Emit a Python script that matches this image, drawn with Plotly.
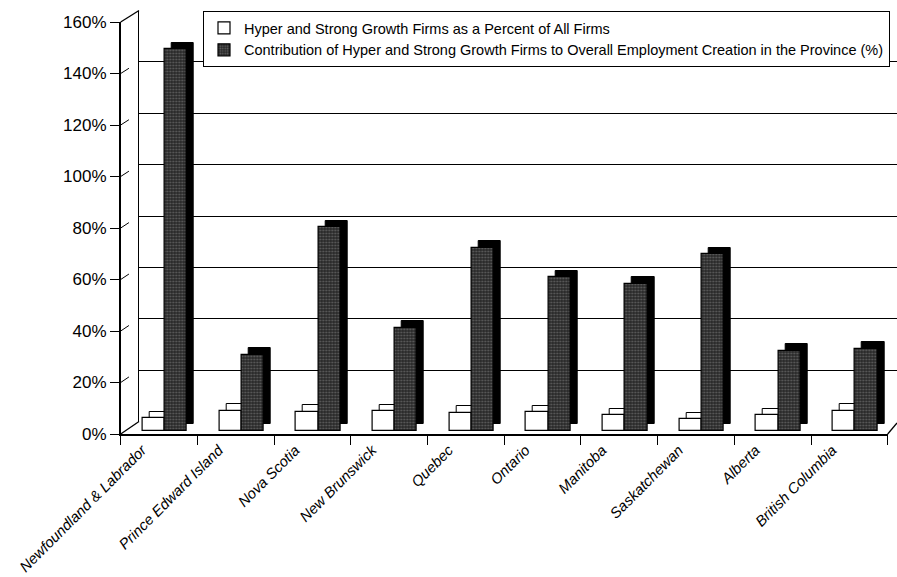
import plotly.graph_objects as go

# ---------------- data ----------------
provinces = ["Newfoundland & Labrador", "Prince Edward Island", "Nova Scotia",
             "New Brunswick", "Quebec", "Ontario", "Manitoba", "Saskatchewan",
             "Alberta", "British Columbia"]
share_of_firms = [4.8, 7.6, 7.2, 7.4, 6.8, 7.0, 5.9, 4.3, 5.9, 7.6]
employment_contribution = [148, 29.5, 79, 40, 71, 59.5, 57, 68.5, 31, 31.8]
series_names = ["Hyper and Strong Growth Firms as a Percent of All Firms",
                "Contribution of Hyper and Strong Growth Firms to Overall Employment Creation in the Province (%)"]
y_ticks = [0, 20, 40, 60, 80, 100, 120, 140, 160]
y_ticktext = [f"{v}%" for v in y_ticks]

# ---------------- geometry helpers ----------------
W, H = 897, 577
def fx(p):
    return p / W
def fy(p):
    return 1 - p / H

FRONT_L, FRONT_R = 120.7, 887.7
FRONT_TOP, FRONT_BOT = 22.0, 434.0
BACK_L, BACK_R = 139.0, 897.0
BACK_TOP, BACK_BOT = 10.5, 421.5
BAR_ZERO = 430.5
pxu = (FRONT_BOT - FRONT_TOP) / 160.0
y3_range = [(BAR_ZERO - FRONT_BOT) / pxu, (BAR_ZERO - FRONT_TOP) / pxu]

cat_px = (FRONT_R - FRONT_L) / len(provinces)
depth_x = 7.0 / cat_px
depth_y = 6.5 / pxu
bar_w = 0.29
light_off = -0.215
dark_off = 0.075

front_ydomain = [fy(FRONT_BOT), fy(FRONT_TOP)]

fig = go.Figure()

# back wall subplot (grid only) and front axis subplot
fig.add_trace(go.Scatter(x=[], y=[], xaxis="x", yaxis="y", showlegend=False, hoverinfo="skip"))
fig.add_trace(go.Scatter(x=[], y=[], xaxis="x2", yaxis="y2", showlegend=False, hoverinfo="skip"))

# depth (shadow) faces
fig.add_trace(go.Bar(x=provinces, y=share_of_firms, base=depth_y, xaxis="x2", yaxis="y3",
                     offset=light_off + depth_x, width=bar_w, showlegend=False,
                     marker=dict(color="white", line=dict(color="black", width=1)), hoverinfo="skip"))
fig.add_trace(go.Bar(x=provinces, y=employment_contribution, base=depth_y, xaxis="x2", yaxis="y3",
                     offset=dark_off + depth_x, width=bar_w, showlegend=False,
                     marker=dict(color="black", line=dict(color="black", width=1)), hoverinfo="skip"))
# front faces
fig.add_trace(go.Bar(x=provinces, y=share_of_firms, xaxis="x2", yaxis="y3", name=series_names[0],
                     offset=light_off, width=bar_w,
                     marker=dict(color="white", line=dict(color="black", width=1.2))))
fig.add_trace(go.Bar(x=provinces, y=employment_contribution, xaxis="x2", yaxis="y3", name=series_names[1],
                     offset=dark_off, width=bar_w,
                     marker=dict(color="#262626", line=dict(color="black", width=1.2),
                                 pattern=dict(shape=".", fillmode="overlay", fgcolor="#9a9a9a",
                                              size=3, solidity=0.35))))

# decorative wall / floor edges
shapes = []
line = dict(color="black", width=1.3)
shapes.append(dict(type="line", xref="paper", yref="paper", x0=fx(FRONT_L), y0=fy(FRONT_TOP),
                   x1=fx(BACK_L), y1=fy(BACK_TOP), line=line))
shapes.append(dict(type="line", xref="paper", yref="paper", x0=fx(FRONT_L), y0=fy(FRONT_BOT),
                   x1=fx(BACK_L), y1=fy(BACK_BOT), line=line))
shapes.append(dict(type="line", xref="paper", yref="paper", x0=fx(FRONT_R), y0=fy(FRONT_BOT),
                   x1=fx(BACK_R), y1=fy(FRONT_BOT - 11), line=line))
for v in y_ticks[1:-1]:
    yf = FRONT_BOT - v * pxu
    yb = BACK_BOT - v * (BACK_BOT - BACK_TOP) / 160.0
    t = 0.45
    shapes.append(dict(type="line", xref="paper", yref="paper", x0=fx(FRONT_L), y0=fy(yf),
                       x1=fx(FRONT_L + t * (BACK_L - FRONT_L)), y1=fy(yf + t * (yb - yf)),
                       line=dict(color="black", width=1)))

fig.update_layout(
    template="none",
    width=W, height=H,
    margin=dict(l=0, r=0, t=0, b=0, autoexpand=False),
    paper_bgcolor="white", plot_bgcolor="rgba(0,0,0,0)",
    barmode="overlay",
    font=dict(family="Liberation Sans, Arial, sans-serif", color="black"),
    shapes=shapes,
    xaxis=dict(domain=[fx(BACK_L), fx(BACK_R)], range=[0, 1], visible=False, anchor="y",
               automargin=False),
    yaxis=dict(domain=[fy(BACK_BOT), fy(BACK_TOP)], range=[0, 160], anchor="x",
               tickvals=y_ticks, showticklabels=False, ticks="", showgrid=True,
               gridcolor="black", gridwidth=1, zeroline=False, showline=True,
               linecolor="black", linewidth=1.3, automargin=False),
    xaxis2=dict(domain=[fx(FRONT_L), fx(FRONT_R)], anchor="y2", showline=True,
                linecolor="black", linewidth=1.5, ticks="outside", tickson="boundaries",
                ticklen=9, tickcolor="black", tickwidth=1.3, tickangle=-45,
                ticklabelshift=-17, ticklabelstandoff=0,
                tickfont=dict(size=14.8, style="italic", color="black"), showgrid=False,
                automargin=False),
    yaxis2=dict(domain=front_ydomain, range=[0, 160], anchor="x2",
                tickvals=y_ticks, ticktext=y_ticktext, ticks="outside", ticklen=9,
                tickcolor="black", tickwidth=1.3, showline=True, linecolor="black", linewidth=1.5,
                showgrid=False, zeroline=False, tickfont=dict(size=17, color="black"),
                automargin=False),
    yaxis3=dict(overlaying="y2", domain=front_ydomain, range=y3_range, visible=False,
                anchor="x2", automargin=False),
    legend=dict(x=fx(203), y=fy(11), xanchor="left", yanchor="top", bgcolor="white",
                bordercolor="black", borderwidth=1, font=dict(size=14.5, color="black"),
                itemwidth=30, tracegroupgap=0),
    bargap=0,
)

fig.write_html("out.html", post_script="document.body.style.margin='0';",
               config={"displayModeBar": False})
